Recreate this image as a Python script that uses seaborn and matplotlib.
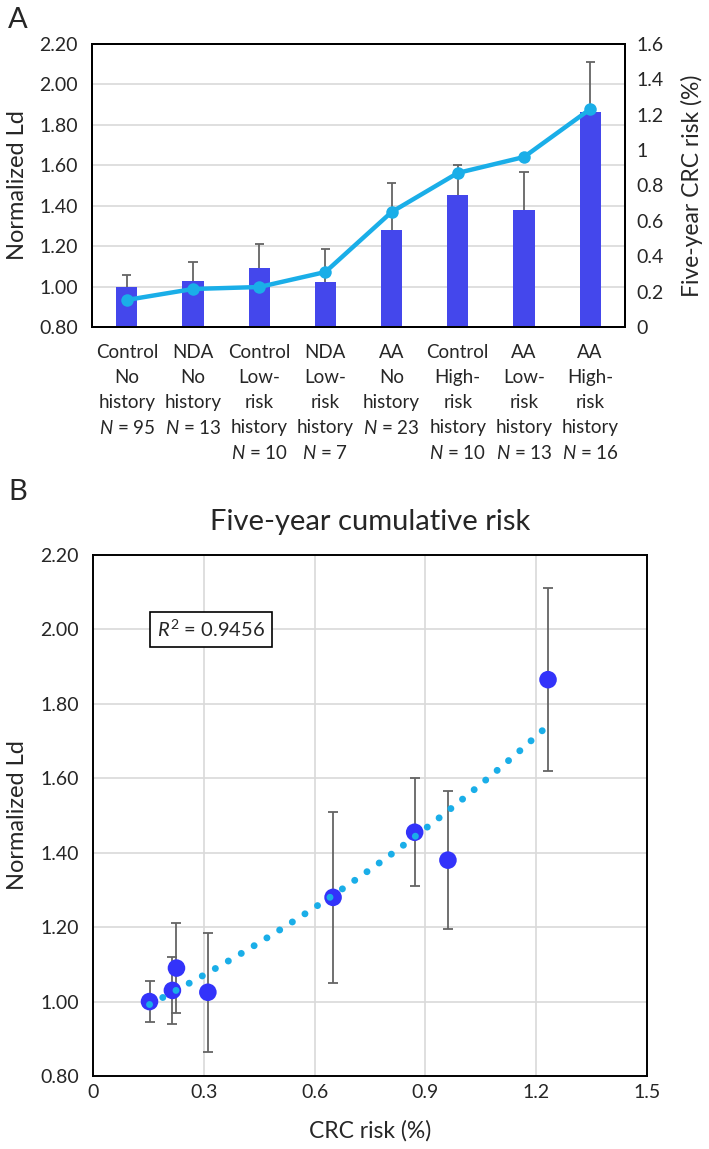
import numpy as np
import pandas as pd
import matplotlib
matplotlib.use("Agg")
import matplotlib.pyplot as plt
import seaborn as sns

# ---- data ----
groups = ["Control\nNo\nhistory\n$N$ = 95",
          "NDA\nNo\nhistory\n$N$ = 13",
          "Control\nLow-\nrisk\nhistory\n$N$ = 10",
          "NDA\nLow-\nrisk\nhistory\n$N$ = 7",
          "AA\nNo\nhistory\n$N$ = 23",
          "Control\nHigh-\nrisk\nhistory\n$N$ = 10",
          "AA\nLow-\nrisk\nhistory\n$N$ = 13",
          "AA\nHigh-\nrisk\nhistory\n$N$ = 16"]
norm_ld = [1.00, 1.03, 1.09, 1.025, 1.28, 1.455, 1.38, 1.865]
ld_err = [0.055, 0.09, 0.12, 0.16, 0.23, 0.145, 0.185, 0.245]
crc_risk = [0.153, 0.215, 0.226, 0.311, 0.650, 0.871, 0.961, 1.232]

left_ticks = [0.80, 1.00, 1.20, 1.40, 1.60, 1.80, 2.00, 2.20]
right_ticks = [0, 0.2, 0.4, 0.6, 0.8, 1.0, 1.2, 1.4, 1.6]
b_xticks = [0, 0.3, 0.6, 0.9, 1.2, 1.5]
r2_text = "$R^2$ = 0.9456"

BAR = "#4447EC"
LINE = "#1AAEE8"
DOT = "#3333FA"
ERR = "#646464"
GRID = "#D9D9D9"

sns.set_style("white")
plt.rcParams["font.family"] = ["Lato", "DejaVu Sans"]
plt.rcParams["mathtext.fontset"] = "custom"
plt.rcParams["mathtext.rm"] = "Lato"
plt.rcParams["mathtext.it"] = "Lato:italic"

df = pd.DataFrame({"group": groups, "ld": norm_ld, "err": ld_err, "risk": crc_risk})
pos = np.arange(len(df))
top = df["ld"] + df["err"]

fig = plt.figure(figsize=(7.09, 11.49), dpi=100)

# ---------------- Panel A ----------------
axA = fig.add_axes([92 / 709, 1 - 327 / 1149, 533 / 709, 283 / 1149])
sns.barplot(data=df, x="group", y="ld", color=BAR, saturation=1, width=0.32,
            linewidth=0, errorbar=None, ax=axA, zorder=2)
# upper-only error bars (no cap at the bar top)
axA.vlines(pos, df["ld"], top, color=ERR, lw=1.3, zorder=3)
axA.hlines(top, pos - 0.07, pos + 0.07, color=ERR, lw=1.3, zorder=3)
axA.set_ylim(0.8, 2.2)
axA.set_yticks(left_ticks)
axA.set_yticklabels([f"{v:.2f}" for v in left_ticks])
axA.yaxis.grid(True, color=GRID, lw=1.2, zorder=0)
axA.set_axisbelow(True)
axA.set_xlabel("")
axA.set_ylabel("Normalized Ld", fontsize=17)
axA.yaxis.set_label_coords(-0.12, 0.5)
axA.tick_params(axis="y", length=0, pad=10, labelsize=14)
axA.tick_params(axis="x", length=0, pad=12, labelsize=13.5)
for lab in axA.get_xticklabels():
    lab.set_linespacing(1.57)

axA2 = axA.twinx()
sns.lineplot(x=pos, y=df["risk"].values, ax=axA2, color=LINE, lw=3.2,
             marker="o", markersize=9, markeredgewidth=0, zorder=4)
axA2.set_ylim(0, 1.6)
axA2.set_yticks(right_ticks)
axA2.set_yticklabels([f"{v:g}" for v in right_ticks])
axA2.tick_params(axis="y", length=0, pad=8, labelsize=14)
axA2.set_ylabel("Five-year CRC risk (%)", fontsize=16.5, rotation=90)
axA2.yaxis.set_label_coords(1.105, 0.5)
for ax in (axA, axA2):
    for s in ax.spines.values():
        s.set_color("black")
        s.set_linewidth(1.4)

# ---------------- Panel B ----------------
axB = fig.add_axes([93 / 709, 1 - 1076 / 1149, 554 / 709, 521 / 1149])
axB.set_axisbelow(True)
axB.grid(True, color=GRID, lw=1.2)
# exponential trendline fitted to the points
b, ln_a = np.polyfit(df["risk"], np.log(df["ld"]), 1)
xs = np.linspace(df["risk"].min(), df["risk"].max(), 200)
axB.plot(xs, np.exp(ln_a) * np.exp(b * xs), color=LINE, lw=5,
         linestyle=(0, (0.01, 2.15)), dash_capstyle="round", zorder=5)
axB.errorbar(df["risk"], df["ld"], yerr=df["err"], fmt="none", ecolor=ERR,
             elinewidth=1.3, capsize=3.3, capthick=1.3, zorder=3)
sns.scatterplot(data=df, x="risk", y="ld", ax=axB, color=DOT, s=160,
                edgecolor="none", zorder=4)
axB.set_xlim(0, 1.5)
axB.set_ylim(0.8, 2.2)
axB.set_xticks(b_xticks)
axB.set_xticklabels([f"{v:g}" for v in b_xticks])
axB.set_yticks(left_ticks)
axB.set_yticklabels([f"{v:.2f}" for v in left_ticks])
axB.tick_params(axis="y", length=0, pad=10, labelsize=14)
axB.tick_params(axis="x", length=0, pad=6, labelsize=14)
axB.set_xlabel("CRC risk (%)", fontsize=16.5)
axB.xaxis.set_label_coords(0.5, -0.085)
axB.set_ylabel("Normalized Ld", fontsize=17)
axB.yaxis.set_label_coords(-0.117, 0.5)
axB.set_title("Five-year cumulative risk", fontsize=21, pad=18)
for s in axB.spines.values():
    s.set_color("black")
    s.set_linewidth(1.4)
axB.text(0.32, 2.0, r2_text, fontsize=14.5, ha="center", va="center",
         bbox=dict(boxstyle="square,pad=0.35", fc="white", ec="black", lw=1.2),
         zorder=6)

fig.text(8 / 709, 1 - 20 / 1149, "A", fontsize=21, va="center")
fig.text(8 / 709, 1 - 492 / 1149, "B", fontsize=21, va="center")

fig.savefig("out.png", dpi=100)
